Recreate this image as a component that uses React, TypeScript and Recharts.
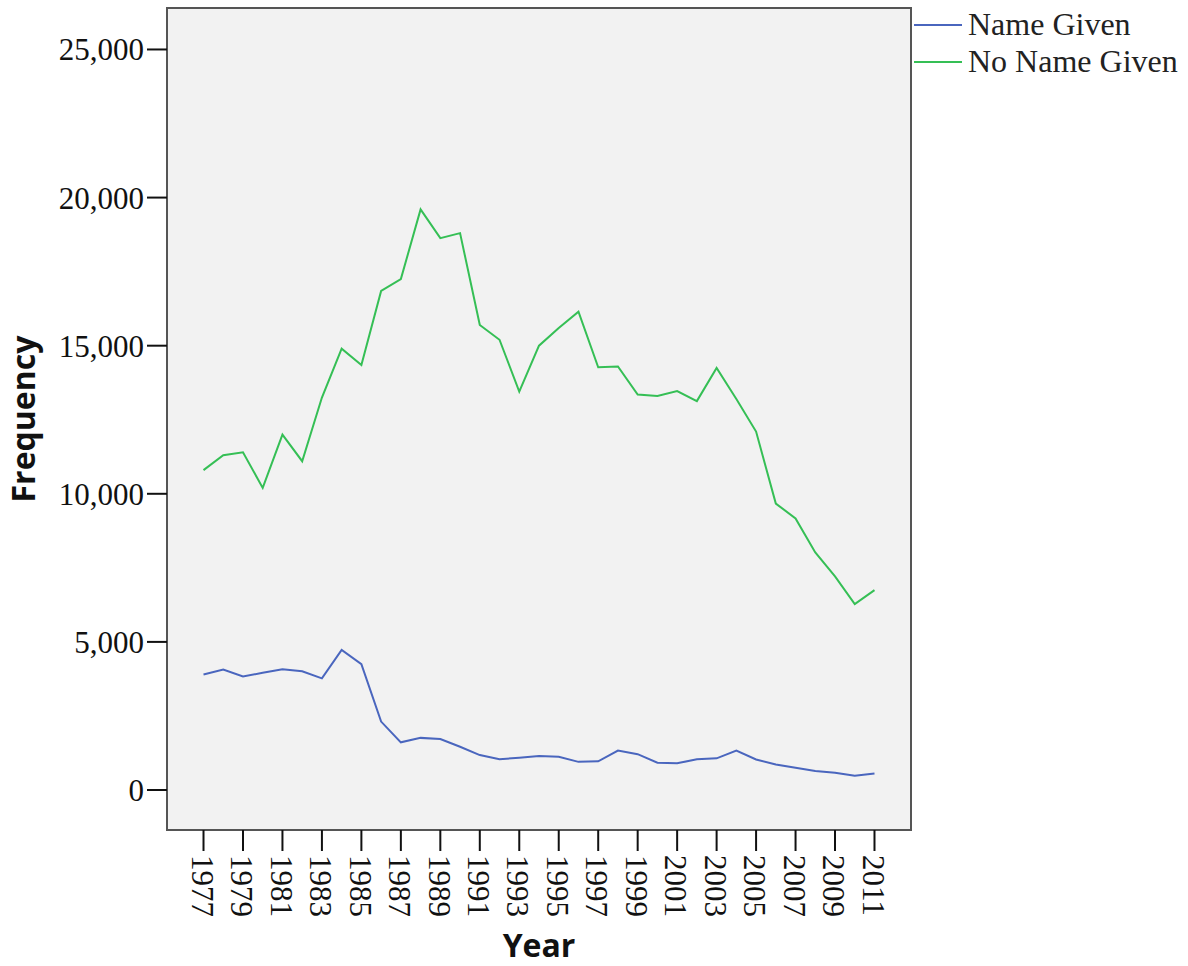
import React from "react";
import {
  LineChart,
  Line,
  XAxis,
  YAxis,
  Legend,
  Label,
  ReferenceArea,
} from "recharts";

const years = [
  1977, 1978, 1979, 1980, 1981, 1982, 1983, 1984, 1985, 1986, 1987, 1988,
  1989, 1990, 1991, 1992, 1993, 1994, 1995, 1996, 1997, 1998, 1999, 2000,
  2001, 2002, 2003, 2004, 2005, 2006, 2007, 2008, 2009, 2010, 2011,
];

const nameGiven = [
  3900, 4070, 3830, 3960, 4080, 4010, 3770, 4730, 4250, 2310, 1610, 1760,
  1720, 1460, 1180, 1040, 1090, 1150, 1120, 950, 970, 1330, 1210, 920,
  900, 1040, 1070, 1330, 1030, 860, 750, 640, 580, 480, 560,
];

const noNameGiven = [
  10800, 11300, 11400, 10200, 12000, 11100, 13250, 14900, 14350, 16850,
  17250, 19600, 18630, 18800, 15700, 15200, 13450, 15000, 15600, 16150,
  14270, 14300, 13350, 13300, 13470, 13130, 14250, 13200, 12100, 9670,
  9170, 8020, 7210, 6280, 6750,
];

const xTicks = [
  1977, 1979, 1981, 1983, 1985, 1987, 1989, 1991, 1993, 1995, 1997, 1999,
  2001, 2003, 2005, 2007, 2009, 2011,
];
const yTicks = [0, 5000, 10000, 15000, 20000, 25000];

const X_DOMAIN: [number, number] = [1975.15, 2012.85];
const Y_DOMAIN: [number, number] = [-1350, 26400];

const data = years.map((year, i) => ({
  year,
  named: nameGiven[i],
  unnamed: noNameGiven[i],
}));

const SERIF = "'Liberation Serif', 'Times New Roman', serif";
const SANS = "'Open Sans', 'Liberation Sans', sans-serif";
const FRAME = "#555555";

function YearTick(props: any) {
  const { x, y, payload } = props;
  return (
    <g transform={`translate(${x},${y})`}>
      <text
        transform="rotate(90)"
        textAnchor="start"
        dy="0.38em"
        fontFamily={SERIF}
        fontSize={31}
        fill="#111"
      >
        {payload.value}
      </text>
    </g>
  );
}

function LegendBox(props: any) {
  const items = props.payload || [];
  return (
    <div style={{ fontFamily: SERIF, fontSize: 32, color: "#222" }}>
      {items.map((item: any) => (
        <div
          key={item.value}
          style={{ display: "flex", alignItems: "center", height: 37 }}
        >
          <span
            style={{
              display: "inline-block",
              width: 48,
              height: 0,
              borderTop: `2px solid ${item.color}`,
              marginRight: 6,
            }}
          />
          <span style={{ whiteSpace: "nowrap" }}>{item.value}</span>
        </div>
      ))}
    </div>
  );
}

export default function App() {
  return (
    <div style={{ width: 1188, height: 966, background: "#fff" }}>
      <style>{`body{margin:0}`}</style>
      <LineChart
        width={1188}
        height={966}
        data={data}
        margin={{ top: 8, right: 277, bottom: 0, left: 0 }}
      >
        <ReferenceArea
          x1={X_DOMAIN[0]}
          x2={X_DOMAIN[1]}
          y1={Y_DOMAIN[0]}
          y2={Y_DOMAIN[1]}
          fill="#f2f2f2"
          fillOpacity={1}
          stroke={FRAME}
          strokeWidth={2}
        />
        <XAxis
          dataKey="year"
          type="number"
          domain={X_DOMAIN}
          ticks={xTicks}
          height={136}
          tickSize={21}
          tickMargin={4}
          tick={<YearTick />}
          tickLine={{ stroke: "#111", strokeWidth: 2 }}
          axisLine={{ stroke: FRAME, strokeWidth: 2 }}
          allowDataOverflow
        >
          <Label
            content={(p: any) => {
              const vb = p.viewBox || { x: 167, y: 830, width: 744 };
              return (
                <text
                  x={vb.x + vb.width / 2}
                  y={vb.y + 127}
                  textAnchor="middle"
                  fontFamily={SANS}
                  fontWeight="bold"
                  fontSize={32}
                  fill="#111"
                >
                  Year
                </text>
              );
            }}
          />
        </XAxis>
        <YAxis
          type="number"
          domain={Y_DOMAIN}
          ticks={yTicks}
          width={167}
          tickSize={20}
          tickMargin={3}
          tickFormatter={(v: number) => v.toLocaleString("en-US")}
          tick={{ fontFamily: SERIF, fontSize: 31, fill: "#111" }}
          tickLine={{ stroke: "#111", strokeWidth: 2 }}
          axisLine={{ stroke: FRAME, strokeWidth: 2 }}
          allowDataOverflow
        >
          <Label
            content={(p: any) => {
              const vb = p.viewBox || { x: 0, y: 8, height: 822 };
              const cx = vb.x + 35;
              const cy = vb.y + vb.height / 2;
              return (
                <text
                  x={cx}
                  y={cy}
                  transform={`rotate(-90, ${cx}, ${cy})`}
                  textAnchor="middle"
                  fontFamily={SANS}
                  fontWeight="bold"
                  fontSize={32}
                  fill="#111"
                >
                  Frequency
                </text>
              );
            }}
          />
        </YAxis>
        <Legend
          layout="horizontal"
          align="center"
          verticalAlign="middle"
          wrapperStyle={{ top: 6, left: 914, width: 274 }}
          content={<LegendBox />}
        />
        <Line
          type="linear"
          dataKey="named"
          name="Name Given"
          stroke="#4a66be"
          strokeWidth={2}
          dot={false}
          activeDot={false}
          isAnimationActive={false}
        />
        <Line
          type="linear"
          dataKey="unnamed"
          name="No Name Given"
          stroke="#35bf55"
          strokeWidth={2}
          dot={false}
          activeDot={false}
          isAnimationActive={false}
        />
      </LineChart>
    </div>
  );
}
